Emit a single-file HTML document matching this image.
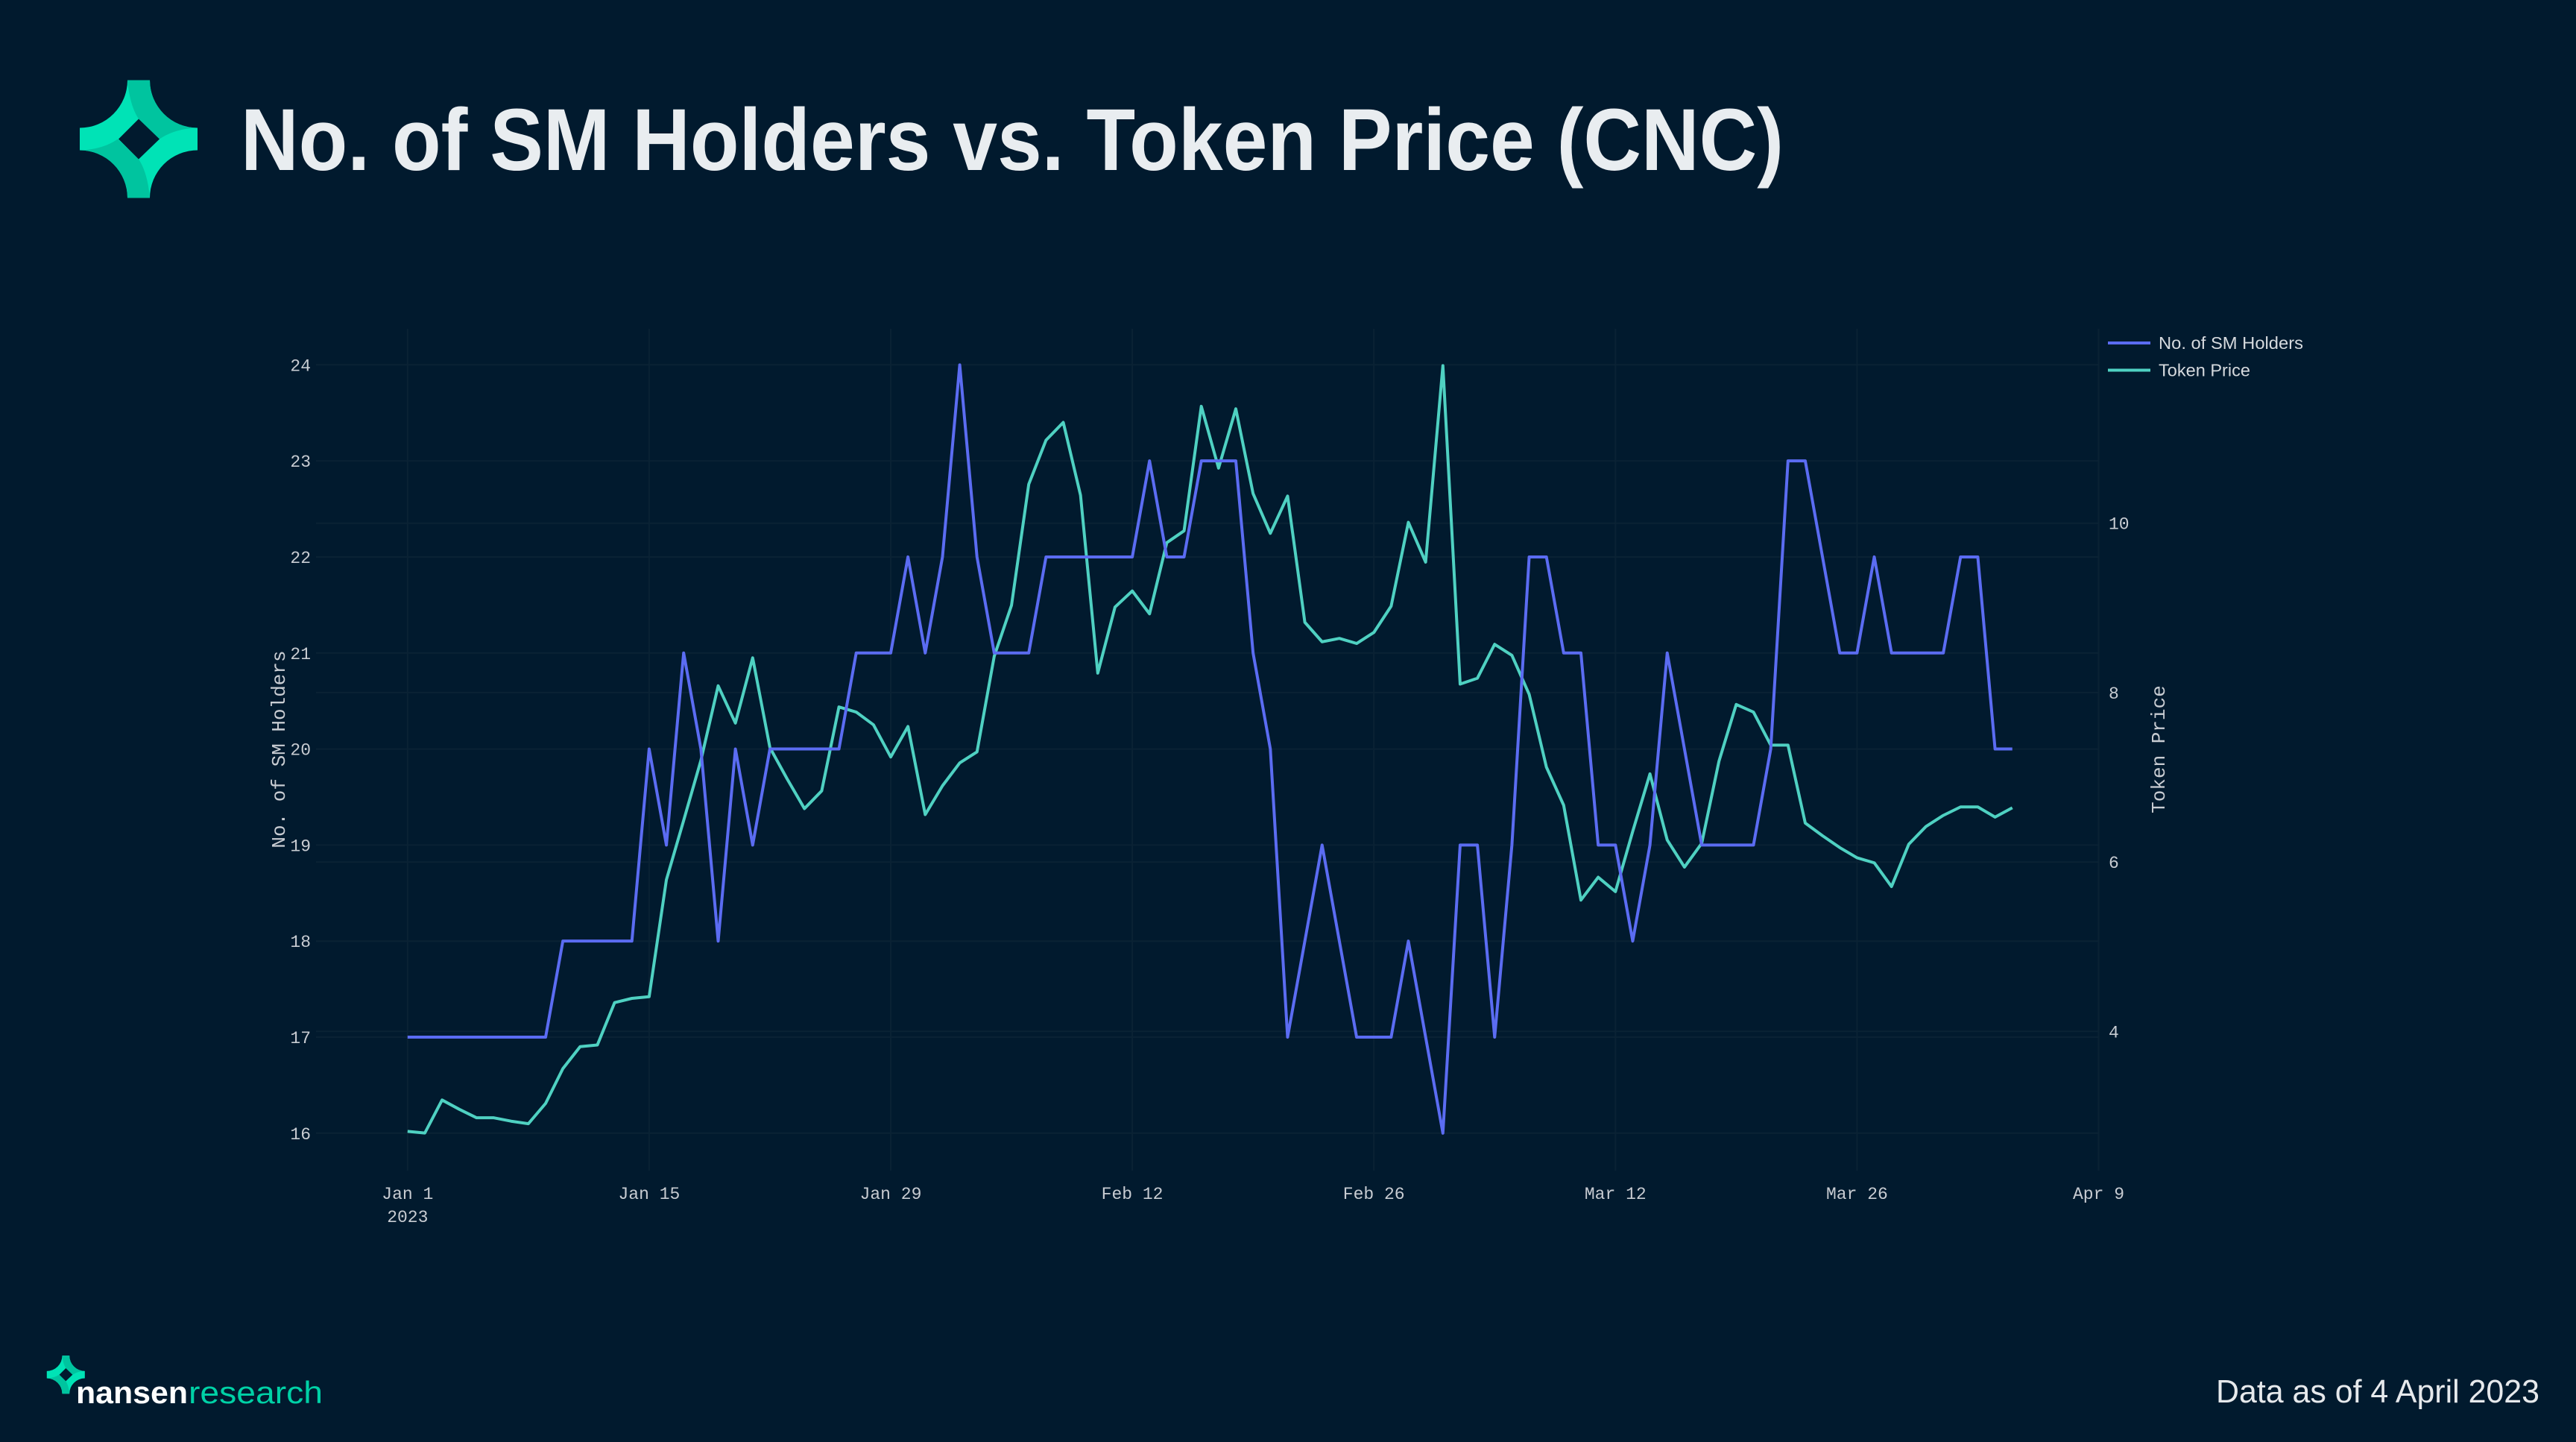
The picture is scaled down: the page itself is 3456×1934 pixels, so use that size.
<!DOCTYPE html>
<html>
<head>
<meta charset="utf-8">
<style>
  html,body{margin:0;padding:0;background:#011a2e;}
  body{width:3456px;height:1934px;overflow:hidden;}
  svg{display:block;}
</style>
</head>
<body>
<svg width="3456" height="1934" viewBox="0 0 3456 1934" xmlns="http://www.w3.org/2000/svg">
  <rect x="0" y="0" width="3456" height="1934" fill="#011a2e"/>

  <defs>
    <g id="star">
      <path d="M-15,-79 L15,-79 A64,64 0 0 0 79,-15 L79,15 A64,64 0 0 0 15,79 L-15,79 A64,64 0 0 0 -79,15 L-79,-15 A64,64 0 0 0 -15,-79 Z" fill="#00e3b6"/>
      <path d="M-15,-79 L15,-79 A64,64 0 0 0 79,-15 Q48,-14 28,0 L0,-27 Q-12,-45 -15,-79 Z" fill="#00c49f"/>
      <path d="M15,79 L-15,79 A64,64 0 0 0 -79,15 Q-48,14 -28,0 L0,27 Q12,45 15,79 Z" fill="#00c49f"/>
      <path d="M0,-27 L28,0 L0,27 L-27,0 Z" fill="#011a2e"/>
    </g>
  </defs>

  <!-- Header logo -->
  <use href="#star" transform="translate(186,186.5)"/>

  <!-- Title -->
  <text x="323" y="228" font-family="Liberation Sans, Arial, sans-serif" font-weight="700" font-size="118" fill="#e9edf0" textLength="2070" lengthAdjust="spacingAndGlyphs">No. of SM Holders vs. Token Price (CNC)</text>

  <!-- Gridlines -->
  <g stroke="#0a2234" stroke-width="2">
    <line x1="424" x2="2815" y1="1519.8" y2="1519.8"/>
    <line x1="424" x2="2815" y1="1391.0" y2="1391.0"/>
    <line x1="424" x2="2815" y1="1262.2" y2="1262.2"/>
    <line x1="424" x2="2815" y1="1133.4" y2="1133.4"/>
    <line x1="424" x2="2815" y1="1004.6" y2="1004.6"/>
    <line x1="424" x2="2815" y1="875.8" y2="875.8"/>
    <line x1="424" x2="2815" y1="747.0" y2="747.0"/>
    <line x1="424" x2="2815" y1="618.1" y2="618.1"/>
    <line x1="424" x2="2815" y1="489.3" y2="489.3"/>
    <line x1="424" x2="2815" y1="1383.3" y2="1383.3"/>
    <line x1="424" x2="2815" y1="1156.1" y2="1156.1"/>
    <line x1="424" x2="2815" y1="928.9" y2="928.9"/>
    <line x1="424" x2="2815" y1="701.7" y2="701.7"/>
    <line y1="441" y2="1570" x1="546.8" x2="546.8"/>
    <line y1="441" y2="1570" x1="870.9" x2="870.9"/>
    <line y1="441" y2="1570" x1="1195.0" x2="1195.0"/>
    <line y1="441" y2="1570" x1="1519.1" x2="1519.1"/>
    <line y1="441" y2="1570" x1="1843.2" x2="1843.2"/>
    <line y1="441" y2="1570" x1="2167.3" x2="2167.3"/>
    <line y1="441" y2="1570" x1="2491.4" x2="2491.4"/>
    <line y1="441" y2="1570" x1="2815.5" x2="2815.5"/>
  </g>

  <!-- Left tick labels -->
  <g font-family="Liberation Mono, monospace" font-size="23" fill="#c8ccd2" text-anchor="end">
    <text x="417" y="1527.8">16</text>
    <text x="417" y="1399.0">17</text>
    <text x="417" y="1270.2">18</text>
    <text x="417" y="1141.4">19</text>
    <text x="417" y="1012.6">20</text>
    <text x="417" y="883.8">21</text>
    <text x="417" y="755.0">22</text>
    <text x="417" y="626.1">23</text>
    <text x="417" y="497.3">24</text>
  </g>
  <!-- Right tick labels -->
  <g font-family="Liberation Mono, monospace" font-size="23" fill="#c8ccd2" text-anchor="start">
    <text x="2829" y="1391.3">4</text>
    <text x="2829" y="1164.1">6</text>
    <text x="2829" y="936.9">8</text>
    <text x="2829" y="709.7">10</text>
  </g>
  <!-- X tick labels -->
  <g font-family="Liberation Mono, monospace" font-size="23" fill="#c8ccd2" text-anchor="middle">
    <text x="546.8" y="1608">Jan 1</text>
    <text x="546.8" y="1639">2023</text>
    <text x="870.9" y="1608">Jan 15</text>
    <text x="1195.0" y="1608">Jan 29</text>
    <text x="1519.1" y="1608">Feb 12</text>
    <text x="1843.2" y="1608">Feb 26</text>
    <text x="2167.3" y="1608">Mar 12</text>
    <text x="2491.4" y="1608">Mar 26</text>
    <text x="2815.5" y="1608">Apr 9</text>
  </g>

  <!-- Axis titles -->
  <text transform="translate(382,1005) rotate(-90)" font-family="Liberation Mono, monospace" font-size="26" fill="#c8ccd2" text-anchor="middle">No. of SM Holders</text>
  <text transform="translate(2904,1005) rotate(-90)" font-family="Liberation Mono, monospace" font-size="26" fill="#c8ccd2" text-anchor="middle">Token Price</text>

  <!-- Series: Token Price -->
  <g transform="matrix(23.15 0 0 -113.6 546.8 1837.7)">
    <polyline fill="none" stroke="#4fd1c2" stroke-width="4" stroke-linejoin="round" vector-effect="non-scaling-stroke"
      points="0,2.82 1,2.80 2,3.19 3,3.08 4,2.98 5,2.98 6,2.94 7,2.91 8,3.15 9,3.56 10,3.82 11,3.84 12,4.34 13,4.39 14,4.41 15,5.79 16,6.49 17,7.2 18,8.08 19,7.64 20,8.41 21,7.35 22,6.98 23,6.63 24,6.84 25,7.83 26,7.77 27,7.62 28,7.24 29,7.60 30,6.56 31,6.90 32,7.17 33,7.30 34,8.43 35,9.03 36,10.46 37,10.98 38,11.19 39,10.33 40,8.23 41,9.01 42,9.20 43,8.93 44,9.77 45,9.91 46,11.38 47,10.65 48,11.35 49,10.35 50,9.88 51,10.32 52,8.83 53,8.60 54,8.64 55,8.58 56,8.71 57,9.02 58,10.01 59,9.54 60,11.86 61,8.10 62,8.17 63,8.57 64,8.44 65,7.98 66,7.12 67,6.67 68,5.55 69,5.82 70,5.65 71,6.36 72,7.04 73,6.26 74,5.94 75,6.22 76,7.19 77,7.86 78,7.77 79,7.38 80,7.38 81,6.46 82,6.31 83,6.17 84,6.05 85,5.99 86,5.71 87,6.21 88,6.42 89,6.55 90,6.65 91,6.65 92,6.53 93,6.64"/>
  </g>

  <!-- Series: No. of SM Holders -->
  <g transform="matrix(23.15 0 0 -128.81 546.8 3580.76)">
    <polyline fill="none" stroke="#5b6cf2" stroke-width="4" stroke-linejoin="round" vector-effect="non-scaling-stroke"
      points="0,17 1,17 2,17 3,17 4,17 5,17 6,17 7,17 8,17 9,18 10,18 11,18 12,18 13,18 14,20 15,19 16,21 17,20 18,18 19,20 20,19 21,20 22,20 23,20 24,20 25,20 26,21 27,21 28,21 29,22 30,21 31,22 32,24 33,22 34,21 35,21 36,21 37,22 38,22 39,22 40,22 41,22 42,22 43,23 44,22 45,22 46,23 47,23 48,23 49,21 50,20 51,17 52,18 53,19 54,18 55,17 56,17 57,17 58,18 59,17 60,16 61,19 62,19 63,17 64,19 65,22 66,22 67,21 68,21 69,19 70,19 71,18 72,19 73,21 74,20 75,19 76,19 77,19 78,19 79,20 80,23 81,23 82,22 83,21 84,21 85,22 86,21 87,21 88,21 89,21 90,22 91,22 92,20 93,20"/>
  </g>

  <!-- Legend -->
  <line x1="2828" x2="2885" y1="460" y2="460" stroke="#5b6cf2" stroke-width="4"/>
  <line x1="2828" x2="2885" y1="496.5" y2="496.5" stroke="#4fd1c2" stroke-width="4"/>
  <g font-family="Liberation Sans, Arial, sans-serif" font-size="23" fill="#d6dade">
    <text x="2896" y="468" textLength="194" lengthAdjust="spacingAndGlyphs">No. of SM Holders</text>
    <text x="2896" y="504.5" textLength="123" lengthAdjust="spacingAndGlyphs">Token Price</text>
  </g>

  <!-- Footer logo -->
  <use href="#star" transform="translate(88.3,1843.7) scale(0.323)"/>
  <text x="102" y="1882" font-family="Liberation Sans, Arial, sans-serif" font-weight="700" font-size="42" fill="#ffffff" textLength="150" lengthAdjust="spacingAndGlyphs">nansen</text>
  <text x="253" y="1882" font-family="Liberation Sans, Arial, sans-serif" font-weight="400" font-size="42" fill="#00d1a6" textLength="180" lengthAdjust="spacingAndGlyphs">research</text>

  <!-- Footer date -->
  <text x="2973" y="1881" font-family="Liberation Sans, Arial, sans-serif" font-size="44" fill="#e6e9ec" textLength="434" lengthAdjust="spacingAndGlyphs">Data as of 4 April 2023</text>
</svg>
</body>
</html>
